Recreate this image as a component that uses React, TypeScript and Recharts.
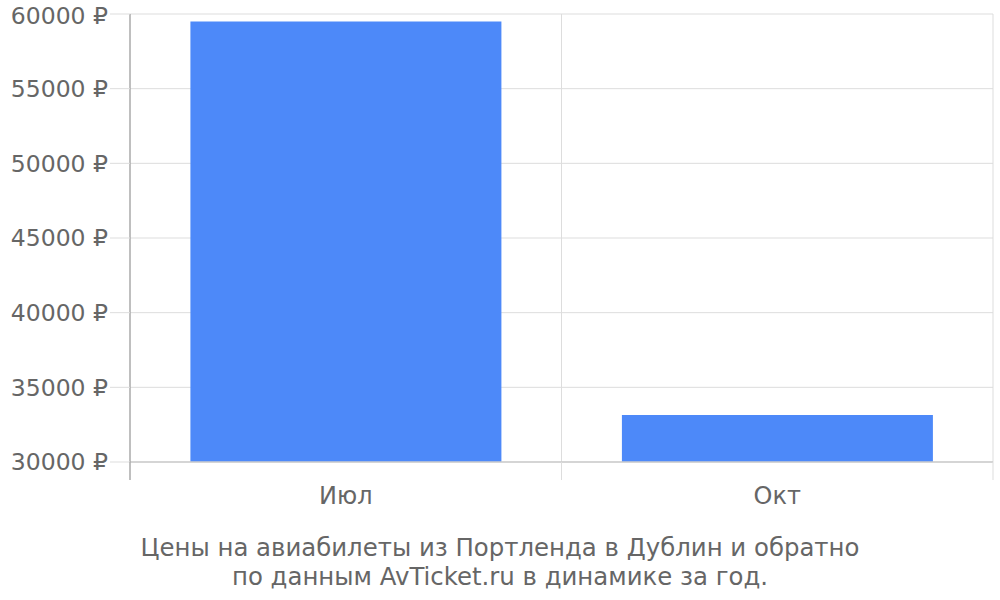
import React from "react";
import { BarChart, Bar, XAxis, YAxis, CartesianGrid } from "recharts";

const months = ["Июл", "Окт"];
const prices = [59500, 33150];
const yTicks = [30000, 35000, 40000, 45000, 50000, 55000, 60000];
const titleLines = [
  "Цены на авиабилеты из Портленда в Дублин и обратно",
  "по данным AvTicket.ru в динамике за год.",
];

const data = months.map((m, i) => ({ month: m, price: prices[i] }));

const FONT = "'DejaVu Sans', sans-serif";
const TEXT = "#666666";

const XTick = (props: any) => {
  const { x, y, payload, index, visibleTicksCount } = props;
  const half = payload.offset || 0;
  const left = payload.coordinate - half;
  const right = payload.coordinate + half;
  const isLast = index === (visibleTicksCount ?? 2) - 1;
  return (
    <g>
      <line
        x1={left}
        x2={left}
        y1={y - 26}
        y2={y - 8}
        stroke={index === 0 ? "#aaaaaa" : "#dddddd"}
        strokeWidth={index === 0 ? 1.5 : 1}
      />
      {isLast && (
        <line x1={right} x2={right} y1={y - 26} y2={y - 8} stroke="#dddddd" strokeWidth={1} />
      )}
      <text x={x} y={y - 1} dy="0.71em" textAnchor="middle" fill={TEXT} fontSize={24} fontFamily={FONT}>
        {payload.value}
      </text>
    </g>
  );
};

export default function App() {
  return (
    <div style={{ position: "absolute", left: 0, top: 0, width: 1000, height: 600, background: "#fff" }}>
      <BarChart
        width={1000}
        height={600}
        data={data}
        margin={{ top: 14, right: 7, bottom: 88, left: 0 }}
        barCategoryGap="14%"
      >
        <CartesianGrid
          stroke="#dddddd"
          strokeWidth={1}
          verticalCoordinatesGenerator={({ offset }: any) => [
            offset.left + offset.width / 2,
            offset.left + offset.width,
          ]}
        />
        <XAxis
          dataKey="month"
          height={50}
          tickSize={18}
          tickMargin={8}
          tickLine={false}
          axisLine={{ stroke: "#cccccc", strokeWidth: 1.5 }}
          tick={<XTick />}
          interval={0}
        />
        <YAxis
          width={130}
          domain={[30000, 60000]}
          ticks={yTicks}
          allowDataOverflow
          tickFormatter={(v: number) => `${v} ₽`}
          tickSize={20}
          tickMargin={2}
          tickLine={{ stroke: "#dddddd" }}
          axisLine={{ stroke: "#aaaaaa", strokeWidth: 1.5 }}
          tick={{ fill: TEXT, fontSize: 23.5, fontFamily: FONT }}
        />
        <Bar dataKey="price" fill="#4d89f9" isAnimationActive={false} />
      </BarChart>
      <div
        style={{
          position: "absolute",
          left: 0,
          top: 533,
          width: 1000,
          textAlign: "center",
          fontFamily: FONT,
          fontSize: 24.4,
          lineHeight: "29px",
          color: TEXT,
        }}
      >
        {titleLines.map((l, i) => (
          <div key={i}>{l}</div>
        ))}
      </div>
    </div>
  );
}
